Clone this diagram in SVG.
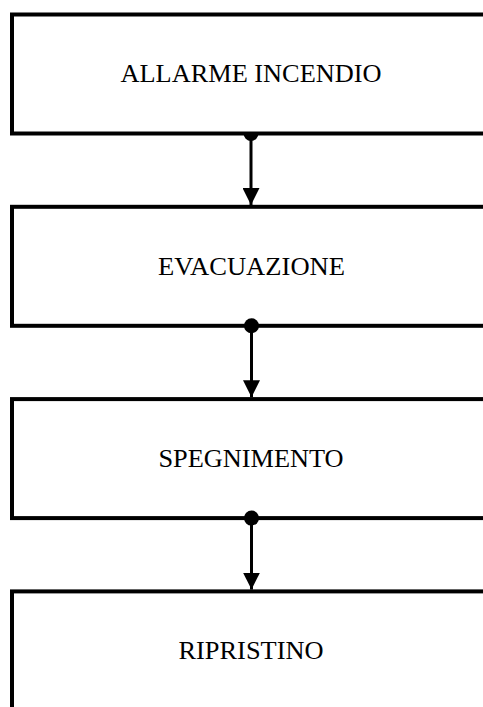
<svg xmlns="http://www.w3.org/2000/svg" width="483" height="707" viewBox="0 0 483 707">
  <style>
    .box { fill: #ffffff; stroke: #000000; stroke-width: 4; }
    .lbl { font-family: "Liberation Serif", "Times New Roman", serif; font-size: 25px; fill: #000000; text-anchor: middle; }
    .wire { stroke: #000000; stroke-width: 3; fill: none; }
    .dot { fill: #000000; }
  </style>
  <defs>
    <marker id="arr" viewBox="0 0 17 17" refX="17" refY="8.5" markerWidth="17" markerHeight="17" markerUnits="userSpaceOnUse" orient="auto">
      <path d="M0,0 L17,8.5 L0,17 Z" fill="#000000"/>
    </marker>
  </defs>
  <rect x="0" y="0" width="483" height="707" fill="#ffffff"/>
  <g id="node1">
    <rect class="box" x="12" y="14.5" width="490" height="119"/>
    <text class="lbl" x="251" y="82" textLength="261" lengthAdjust="spacingAndGlyphs">ALLARME INCENDIO</text>
  </g>
  <g id="node2">
    <rect class="box" x="12" y="206.8" width="490" height="119"/>
    <text class="lbl" x="251.5" y="275" textLength="187" lengthAdjust="spacingAndGlyphs">EVACUAZIONE</text>
  </g>
  <g id="node3">
    <rect class="box" x="12" y="399.1" width="490" height="119"/>
    <text class="lbl" x="251" y="467" textLength="185" lengthAdjust="spacingAndGlyphs">SPEGNIMENTO</text>
  </g>
  <g id="node4">
    <rect class="box" x="12" y="591.4" width="490" height="140"/>
    <text class="lbl" x="251" y="659" textLength="145" lengthAdjust="spacingAndGlyphs">RIPRISTINO</text>
  </g>
  <g id="connectors">
    <path class="dot" d="M243.5,133.5 A7.5,7.5 0 0 0 258.5,133.5 Z"/>
    <line class="wire" x1="251" y1="133.5" x2="251" y2="205" marker-end="url(#arr)"/>
    <circle class="dot" cx="251.5" cy="325.8" r="7.5"/>
    <line class="wire" x1="251.5" y1="325.8" x2="251.5" y2="397.3" marker-end="url(#arr)"/>
    <circle class="dot" cx="251.5" cy="518.1" r="7.5"/>
    <line class="wire" x1="251.5" y1="518.1" x2="251.5" y2="589.6" marker-end="url(#arr)"/>
  </g>
</svg>
